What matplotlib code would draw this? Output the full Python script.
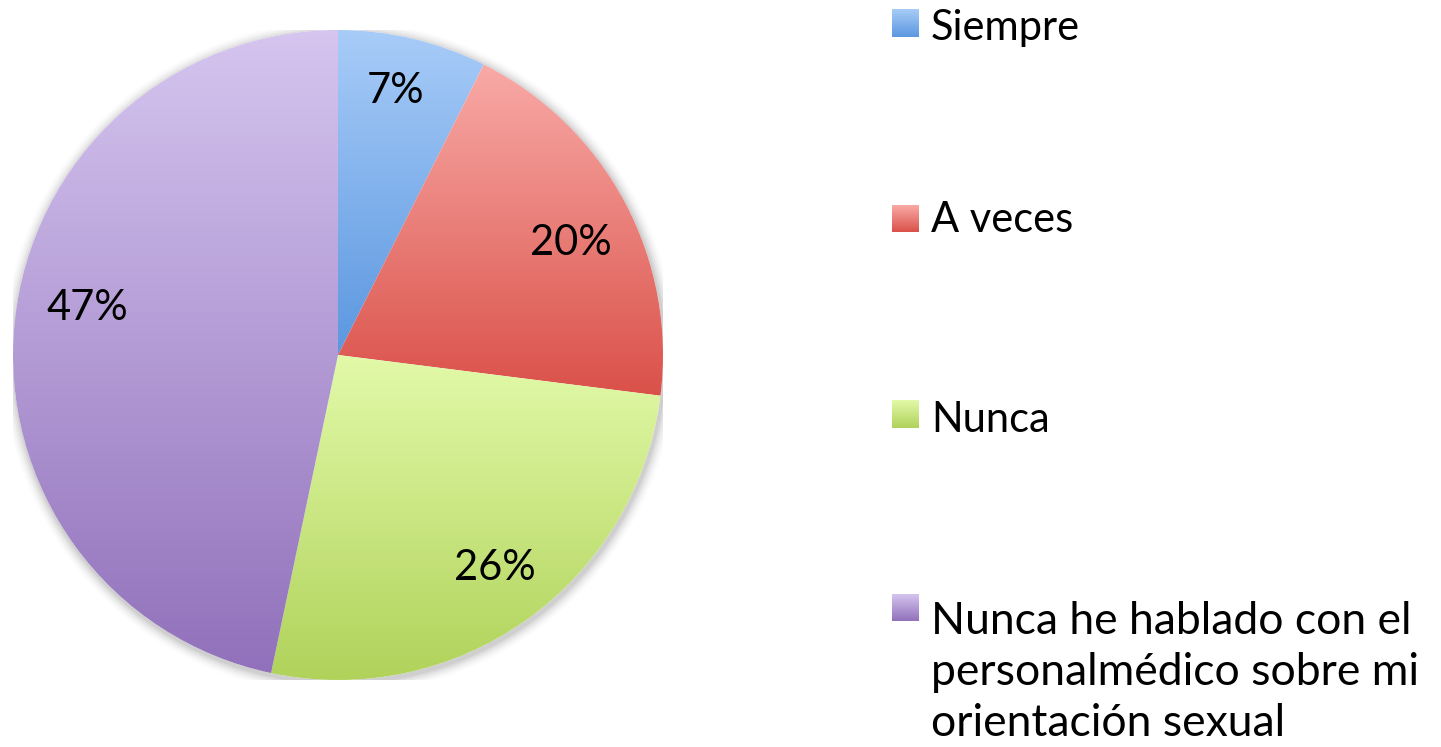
import numpy as np
import matplotlib
matplotlib.use("Agg")
import matplotlib.pyplot as plt
from matplotlib.colors import LinearSegmentedColormap
from matplotlib.patches import Circle

plt.rcParams['font.family'] = ['Lato', 'DejaVu Sans']

categories = ["Siempre", "A veces", "Nunca",
              "Nunca he hablado con el\npersonalmédico sobre mi\norientación sexual"]
values = [7.4, 19.6, 26.3, 46.7]
# gradient (top, bottom) per slice
grad_top = ["#a8ccf8", "#f9aaa7", "#e2faa9", "#d5c5ef"]
grad_bot = ["#5b97e0", "#da5149", "#b0d25a", "#9171bb"]

W, H = 1441, 747
fig = plt.figure(figsize=(W / 100, H / 100), dpi=100)
cx, cy, R = 338, 355, 325
ax = fig.add_axes([(cx - R) / W, (H - cy - R) / H, 2 * R / W, 2 * R / H])
ax.set_xlim(-1, 1)
ax.set_ylim(-1, 1)
ax.set_aspect('equal')
ax.axis('off')

# soft shadow under the pie
for i, a in enumerate(np.linspace(0.05, 0.012, 6)):
    ax.add_patch(Circle((0.004, -0.008), 1.0 + 0.006 * (i + 1), color='black',
                        alpha=a, lw=0, zorder=0))
ax.add_patch(Circle((0, 0), 1.0, color='white', lw=0, zorder=0.5))

wedges, texts, autotexts = ax.pie(
    values, startangle=90, counterclock=False, radius=1,
    autopct='%.0f%%', pctdistance=0.8,
    wedgeprops=dict(linewidth=0, facecolor='none'),
    textprops=dict(fontsize=30, color='black'))
for w in wedges:
    w.set_zorder(1)

# percentage label anchors (pixel positions of baselines, converted to data units)
label_px = [(396, 103), (571, 255), (495, 580), (87, 320)]
for t, (px, py) in zip(autotexts, label_px):
    t.set_position(((px - cx) / R, (cy - py) / R))
    t.set_va('baseline')
    t.set_ha('center')
    t.set_zorder(5)

grad = np.linspace(0, 1, 256).reshape(-1, 1)
for w, top, bot in zip(wedges, grad_top, grad_bot):
    cmap = LinearSegmentedColormap.from_list("g", [top, bot])
    pts = w.get_patch_transform().transform(w.get_path().vertices)
    x0, x1 = pts[:, 0].min(), pts[:, 0].max()
    y0, y1 = pts[:, 1].min(), pts[:, 1].max()
    im = ax.imshow(grad, cmap=cmap, extent=[x0, x1, y0, y1], origin='upper',
                   aspect='auto', zorder=2, interpolation='bilinear')
    im.set_clip_path(w)
ax.set_xlim(-1, 1)
ax.set_ylim(-1, 1)

# legend drawn in figure pixel space
lax = fig.add_axes([0, 0, 1, 1])
lax.set_xlim(0, W)
lax.set_ylim(H, 0)
lax.axis('off')
legend_baseline = [40, 232, 432, 634]
legend_square = [(9, 37), (205, 232), (400, 428), (594, 621)]
legend_size = [30, 30, 30, 32]
for lab, top, bot, yb, (s0, s1), fs in zip(categories, grad_top, grad_bot,
                                           legend_baseline, legend_square, legend_size):
    cmap = LinearSegmentedColormap.from_list("g", [top, bot])
    lax.imshow(grad, cmap=cmap, extent=[892, 919, s1, s0],
               origin='upper', aspect='auto', interpolation='bilinear')
    lines = lab.split('\n')
    for k, line in enumerate(lines):
        lax.text(931, yb + k * 51, line, fontsize=fs, va='baseline', ha='left')
lax.set_xlim(0, W)
lax.set_ylim(H, 0)

fig.savefig("out.png", dpi=100)
